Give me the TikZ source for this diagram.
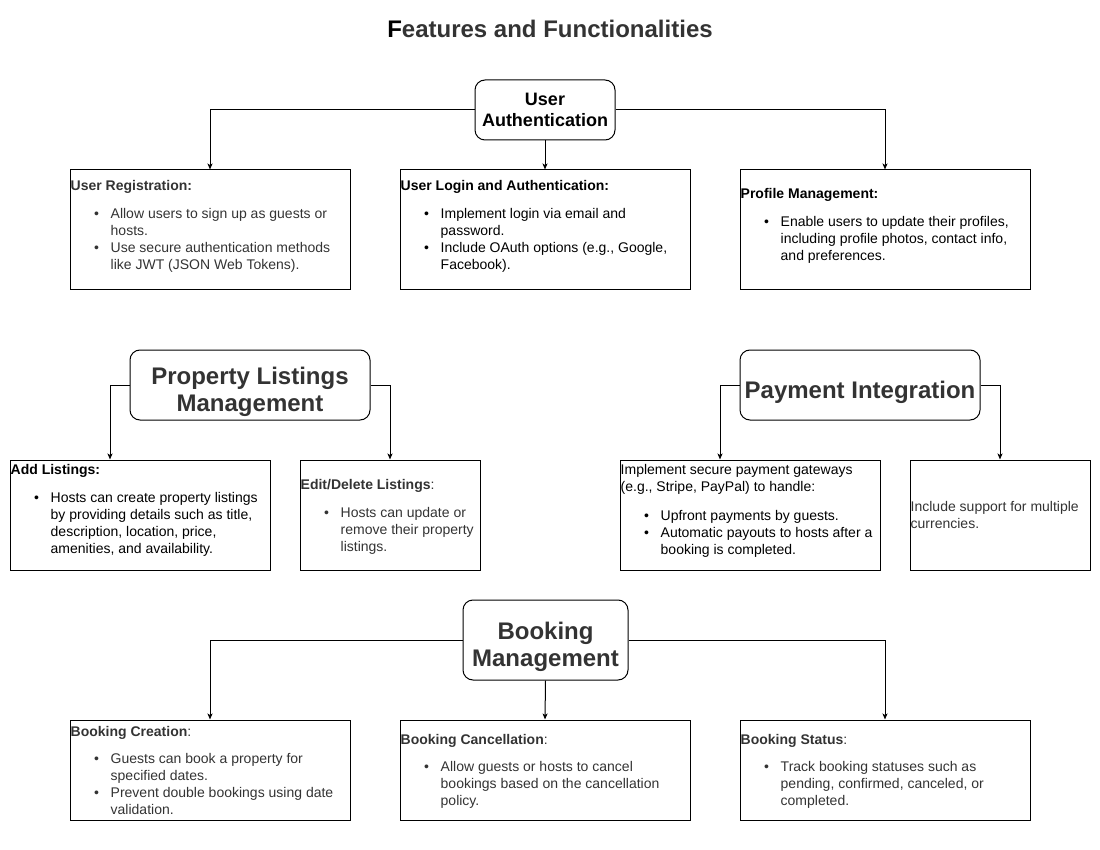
\documentclass[tikz,border=0pt]{standalone}
\usepackage{fontspec}
\setmainfont{Liberation Sans}
\usetikzlibrary{arrows.meta}

\definecolor{darkgrey}{HTML}{333333}
\newcommand{\bul}{\makebox[40pt][l]{\hspace{23.5pt}\textbullet}}
\newcommand{\ind}{\hspace*{40pt}}
\newcommand{\dropstrut}{\rule{0pt}{32pt}}

\begin{document}
\begin{tikzpicture}[x=1pt,y=-1pt]
	\tikzstyle{topic} = [draw, rounded corners=10pt, line width=1pt, align=center, inner sep=0pt]
	\tikzstyle{feature} = [draw, rectangle, line width=1pt, inner sep=0pt]
	\tikzstyle{feature_text} = [anchor=north west, align=left, inner sep=0pt, font=\fontsize{14}{17}\selectfont]
	\tikzstyle{link} = [-{Stealth[length=6pt,width=5pt,inset=1.5pt]}, line width=1pt]
	\useasboundingbox (0,0) rectangle (1100,850);

	% Title
	\node[anchor=base, text=darkgrey, font=\bfseries\fontsize{24}{29}\selectfont] (title) at (550,38) {\textcolor{black}{F}eatures and Functionalities};

	% Topic nodes
	\node[topic, minimum width=140pt, minimum height=60pt, font=\bfseries\fontsize{18}{21.6}\selectfont] (auth) at (545,110) {User\\Authentication};
	\node[topic, minimum width=240pt, minimum height=70pt, text=darkgrey, font=\bfseries\fontsize{24}{27}\selectfont] (listings) at (250,385) {\dropstrut Property Listings\\Management};
	\node[topic, minimum width=240pt, minimum height=70pt, text=darkgrey, font=\bfseries\fontsize{24}{27}\selectfont] (payment) at (860,385) {\dropstrut Payment Integration};
	\node[topic, minimum width=165pt, minimum height=80pt, text=darkgrey, font=\bfseries\fontsize{24}{27}\selectfont] (booking) at (545.5,640) {\dropstrut Booking\\Management};

	% Feature boxes
	\node[feature, minimum width=280pt, minimum height=120pt] (reg) at (210,230) {};
	\node[feature, minimum width=290pt, minimum height=120pt] (login) at (545,230) {};
	\node[feature, minimum width=290pt, minimum height=120pt] (profile) at (885,230) {};
	\node[feature, minimum width=260pt, minimum height=110pt] (add) at (140,515) {};
	\node[feature, minimum width=180pt, minimum height=110pt] (edit) at (390,515) {};
	\node[feature, minimum width=260pt, minimum height=110pt] (gateway) at (750,515) {};
	\node[feature, minimum width=180pt, minimum height=110pt] (currency) at (1000,515) {};
	\node[feature, minimum width=280pt, minimum height=100pt] (create) at (210,770) {};
	\node[feature, minimum width=290pt, minimum height=100pt] (cancel) at (545,770) {};
	\node[feature, minimum width=290pt, minimum height=100pt] (status) at (885,770) {};

	% Feature texts
	\node[feature_text, text=darkgrey] (reg_text) at ([xshift=1pt,yshift=-9pt]reg.north west)
		{\strut\textbf{User Registration:}\\[11pt]
		\bul Allow users to sign up as guests or\\
		\ind hosts.\\
		\bul Use secure authentication methods\\
		\ind like JWT (JSON Web Tokens).};
	\node[feature_text] (login_text) at ([xshift=1pt,yshift=-9pt]login.north west)
		{\strut\textbf{User Login and Authentication:}\\[11pt]
		\bul Implement login via email and\\
		\ind password.\\
		\bul Include OAuth options (e.g., Google,\\
		\ind Facebook).};
	\node[feature_text] (profile_text) at ([xshift=1pt,yshift=-17pt]profile.north west)
		{\strut\textbf{Profile Management:}\\[11pt]
		\bul Enable users to update their profiles,\\
		\ind including profile photos, contact info,\\
		\ind and preferences.};
	\node[feature_text] (add_text) at ([xshift=1pt,yshift=-3pt]add.north west)
		{\strut\textbf{Add Listings:}\\[11pt]
		\bul Hosts can create property listings\\
		\ind by providing details such as title,\\
		\ind description, location, price,\\
		\ind amenities, and availability.};
	\node[feature_text, text=darkgrey] (edit_text) at ([xshift=1pt,yshift=-18pt]edit.north west)
		{\strut\textbf{Edit/Delete Listings}:\\[11pt]
		\bul Hosts can update or\\
		\ind remove their property\\
		\ind listings.};
	\node[feature_text] (gateway_text) at ([xshift=1pt,yshift=-3pt]gateway.north west)
		{\strut Implement secure payment gateways\\
		(e.g., Stripe, PayPal) to handle:\\[12pt]
		\bul Upfront payments by guests.\\
		\bul Automatic payouts to hosts after a\\
		\ind booking is completed.};
	\node[feature_text, text=darkgrey] (currency_text) at ([xshift=1pt,yshift=-40pt]currency.north west)
		{\strut Include support for multiple\\
		currencies.};
	\node[feature_text, text=darkgrey] (create_text) at ([xshift=1pt,yshift=-5pt]create.north west)
		{\strut\textbf{Booking Creation}:\\[10pt]
		\bul Guests can book a property for\\
		\ind specified dates.\\
		\bul Prevent double bookings using date\\
		\ind validation.};
	\node[feature_text, text=darkgrey] (cancel_text) at ([xshift=1pt,yshift=-13pt]cancel.north west)
		{\strut\textbf{Booking Cancellation}:\\[10pt]
		\bul Allow guests or hosts to cancel\\
		\ind bookings based on the cancellation\\
		\ind policy.};
	\node[feature_text, text=darkgrey] (status_text) at ([xshift=1pt,yshift=-13pt]status.north west)
		{\strut\textbf{Booking Status}:\\[10pt]
		\bul Track booking statuses such as\\
		\ind pending, confirmed, canceled, or\\
		\ind completed.};

	% Connect topics to features
	\draw[link] (auth.west) -| (reg.north);
	\draw[link] (auth.south) -- (login.north);
	\draw[link] (auth.east) -| (profile.north);
	\draw[link] (listings.west) -| ([xshift=-30pt]add.north);
	\draw[link] (listings.east) -| (edit.north);
	\draw[link] (payment.west) -| ([xshift=-30pt]gateway.north);
	\draw[link] (payment.east) -| (currency.north);
	\draw[link] (booking.west) -| (create.north);
	\draw[link] (booking.south) -- (cancel.north);
	\draw[link] (booking.east) -| (status.north);
\end{tikzpicture}
\end{document}
